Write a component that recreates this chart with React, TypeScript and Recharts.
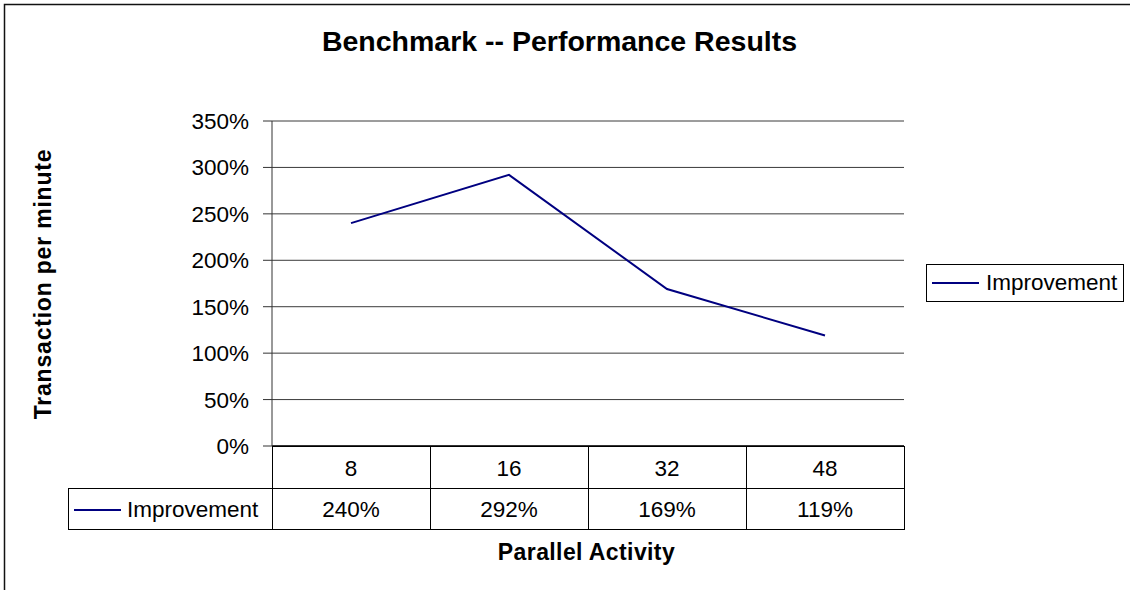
import React from 'react';
import { LineChart, Line, XAxis, YAxis, CartesianGrid, Legend } from 'recharts';

// ---- data ----
const categories = ['8', '16', '32', '48'];
const improvement = [240, 292, 169, 119];
const valueLabels = ['240%', '292%', '169%', '119%'];
const yTicks = [0, 50, 100, 150, 200, 250, 300, 350];
const seriesName = 'Improvement';
const chartTitle = 'Benchmark -- Performance Results';
const xTitle = 'Parallel Activity';
const yTitle = 'Transaction per minute';

const data = categories.map((c, i) => ({ category: c, improvement: improvement[i], label: valueLabels[i] }));

// ---- layout ----
const W = 1130;
const H = 590;
const PLOT_LEFT = 272;
const PLOT_RIGHT = 904;
const PLOT_TOP = 121;
const PLOT_BOTTOM = 446;
const CELL_W = (PLOT_RIGHT - PLOT_LEFT) / categories.length;
const ROW1_H = 42;
const ROW2_H = 41;
const KEY_LEFT = 68;
const FONT = '"Liberation Sans", Arial, Helvetica, sans-serif';
const LINE_COLOR = '#000080';
const FS = 22.5;

function TableTick(props: any) {
  const { x, y, payload } = props;
  const idx = categories.indexOf(String(payload.value));
  const left = Math.round(x - CELL_W / 2) + 0.5;
  const top = Math.round(y) + 0.5;
  const textProps = { fontFamily: FONT, fontSize: FS, fill: '#000', textAnchor: 'middle' as const };
  return (
    <g>
      <rect x={left} y={top} width={CELL_W} height={ROW1_H} fill="none" stroke="#000" strokeWidth={1} />
      <text x={x} y={top + ROW1_H / 2 + FS * 0.36} {...textProps}>{payload.value}</text>
      <rect x={left} y={top + ROW1_H} width={CELL_W} height={ROW2_H} fill="none" stroke="#000" strokeWidth={1} />
      <text x={x} y={top + ROW1_H + ROW2_H / 2 + FS * 0.36} {...textProps}>{idx >= 0 ? valueLabels[idx] : ''}</text>
      {idx === 0 && (
        <g>
          <rect x={KEY_LEFT + 0.5} y={top + ROW1_H} width={left - KEY_LEFT - 0.5} height={ROW2_H} fill="none" stroke="#000" strokeWidth={1} />
          <line x1={74} x2={121} y1={top + ROW1_H + ROW2_H / 2 + 1} y2={top + ROW1_H + ROW2_H / 2 + 1} stroke={LINE_COLOR} strokeWidth={2} />
          <text x={127} y={top + ROW1_H + ROW2_H / 2 + FS * 0.36} fontFamily={FONT} fontSize={FS} fill="#000">{seriesName}</text>
        </g>
      )}
    </g>
  );
}

function LegendBox() {
  return (
    <div
      style={{
        boxSizing: 'border-box',
        width: 198,
        height: 38,
        border: '1px solid #000',
        background: '#fff',
        display: 'flex',
        alignItems: 'center',
        fontFamily: FONT,
        fontSize: FS,
        color: '#000',
        whiteSpace: 'nowrap',
      }}
    >
      <svg width={59} height={20} style={{ display: 'block' }}>
        <line x1={5} x2={52} y1={10} y2={10} stroke={LINE_COLOR} strokeWidth={2} />
      </svg>
      <span>{seriesName}</span>
    </div>
  );
}

export default function App() {
  return (
    <div style={{ position: 'absolute', left: 0, top: 0, width: W, height: H, background: '#fff', overflow: 'hidden' }}>
      <LineChart
        width={W}
        height={H}
        data={data}
        margin={{ top: PLOT_TOP, right: W - PLOT_RIGHT, bottom: 0, left: 0 }}
      >
        <CartesianGrid vertical={false} stroke="#3a3a3a" strokeWidth={1} />
        <XAxis
          dataKey="category"
          interval={0}
          height={H - PLOT_BOTTOM}
          tickLine={false}
          tickSize={0}
          tickMargin={0}
          padding={{ left: CELL_W / 2, right: CELL_W / 2 }}
          axisLine={{ stroke: '#333', strokeWidth: 2 }}
          tick={<TableTick />}
        />
        <YAxis
          width={PLOT_LEFT}
          domain={[0, 350]}
          ticks={yTicks}
          interval={0}
          tickFormatter={(v: number) => `${v}%`}
          tickSize={9}
          tickMargin={14}
          axisLine={{ stroke: '#333' }}
          tickLine={{ stroke: '#333' }}
          tick={{ fill: '#000', fontSize: FS, fontFamily: FONT }}
        />
        <YAxis
          yAxisId="r"
          orientation="right"
          width={0}
          domain={[0, 350]}
          tick={false}
          tickLine={false}
          axisLine={{ stroke: '#888' }}
        />
        <Legend
          layout="vertical"
          align="center"
          verticalAlign="middle"
          wrapperStyle={{ position: 'absolute', left: 926, top: 264, width: 198, height: 38 }}
          content={() => <LegendBox />}
        />
        <Line
          type="linear"
          dataKey="improvement"
          name={seriesName}
          stroke={LINE_COLOR}
          strokeWidth={2}
          dot={false}
          activeDot={false}
          isAnimationActive={false}
        />
      </LineChart>
      <svg
        width={W}
        height={H}
        style={{ position: 'absolute', left: 0, top: 0, pointerEvents: 'none' }}
      >
        <path d={`M4.5 ${H + 10} V4.5 H${W + 10}`} fill="none" stroke="#111" strokeWidth={1.5} />
        <text x={559.5} y={51} textAnchor="middle" fontFamily={FONT} fontWeight="bold" fontSize={28.5} fill="#000">
          {chartTitle}
        </text>
        <text x={586.5} y={560} textAnchor="middle" fontFamily={FONT} fontWeight="bold" fontSize={23} letterSpacing={0.4} fill="#000">
          {xTitle}
        </text>
        <text
          transform={`translate(51, 284) rotate(-90)`}
          textAnchor="middle"
          fontFamily={FONT}
          fontWeight="bold"
          fontSize={23}
          letterSpacing={0.8}
          fill="#000"
        >
          {yTitle}
        </text>
      </svg>
    </div>
  );
}
